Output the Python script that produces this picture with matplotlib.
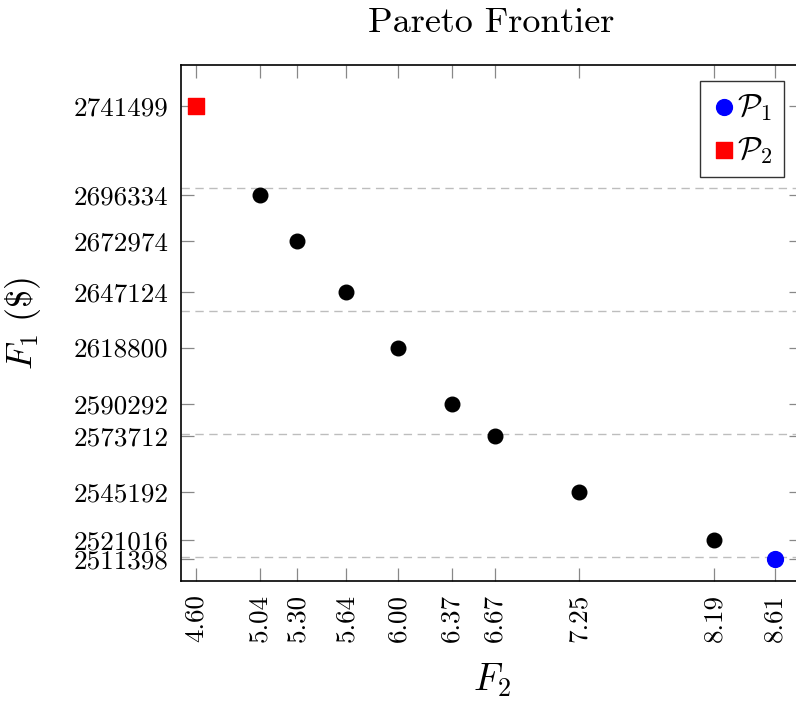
import matplotlib
matplotlib.use("Agg")
import matplotlib.pyplot as plt

# Pareto frontier points (F2, F1)
f2 = [4.60, 5.04, 5.30, 5.64, 6.00, 6.37, 6.67, 7.25, 8.19, 8.61]
f1 = [2741499, 2696334, 2672974, 2647124, 2618800, 2590292,
      2573712, 2545192, 2521016, 2511398]
x_ticklabels = ["4.60", "5.04", "5.30", "5.64", "6.00", "6.37", "6.67",
                "7.25", "8.19", "8.61"]
y_ticklabels = [str(v) for v in f1]
grid_levels = [2700000, 2637500, 2575000, 2512500]

plt.rcParams["font.family"] = "serif"
plt.rcParams["font.serif"] = ["cmr10"]
plt.rcParams["mathtext.fontset"] = "cm"
plt.rcParams["axes.formatter.use_mathtext"] = True
plt.rcParams["axes.unicode_minus"] = False

fig = plt.figure(figsize=(7.96, 7.04), dpi=100)
ax = fig.add_axes([181 / 796, 1 - 581 / 704, 621 / 796, 516 / 704])

for g in grid_levels:
    ax.axhline(g, color="#bdbdbd", lw=1.0, ls=(0, (6, 4)), zorder=1)

# middle points black, extremes coloured
ax.scatter(f2[1:-1], f1[1:-1], s=110, color="black", zorder=3)
ax.scatter(f2[-1:], f1[-1:], s=130, color="blue", marker="o", zorder=3,
           label=r"$\mathcal{P}_1$")
ax.scatter(f2[:1], f1[:1], s=130, color="red", marker="s", zorder=3,
           label=r"$\mathcal{P}_2$")

ax.set_xlim(4.496, 8.797)
ax.set_ylim(2500223, 2762325)

ax.set_xticks(f2)
ax.set_xticklabels(x_ticklabels, rotation=90, fontsize=19.5)
ax.set_yticks(f1)
ax.set_yticklabels(y_ticklabels, fontsize=19.5)
ax.tick_params(direction="in", length=9.5, width=0.9, color="#888888",
               top=True, right=True, pad=9)

for sp in ax.spines.values():
    sp.set_linewidth(1.2)

ax.set_title("Pareto Frontier", fontsize=26, pad=24)
ax.set_xlabel(r"$F_2$", fontsize=27, labelpad=14)
ax.set_ylabel(r"$F_1\ (\$)$", fontsize=26, labelpad=22)

leg = ax.legend(loc="upper right", bbox_to_anchor=((784 - 181) / 621, 1 - 16 / 516),
                fontsize=23, frameon=True, fancybox=False, edgecolor="black",
                handletextpad=0.0, handlelength=0.8, borderpad=0.35,
                labelspacing=0.4, borderaxespad=0)
leg.get_frame().set_linewidth(1.0)

plt.savefig("out.png", dpi=100)
